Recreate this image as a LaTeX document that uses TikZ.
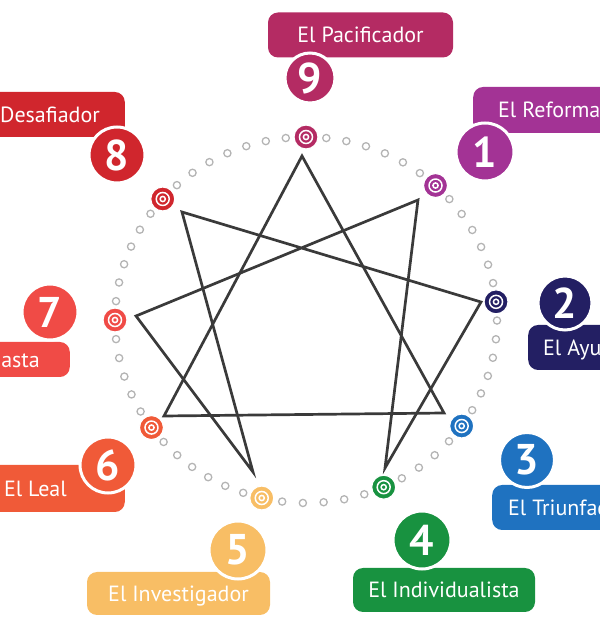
\documentclass[tikz,border=0pt]{standalone}
\usepackage{fontspec}
\setmainfont{PT Sans}
\usetikzlibrary{calc}
\definecolor{tipo9}{HTML}{B42B63}
\definecolor{tipo8}{HTML}{D0262D}
\definecolor{tipo1}{HTML}{A33395}
\definecolor{tipo7}{HTML}{F04B46}
\definecolor{tipo2}{HTML}{231F63}
\definecolor{tipo6}{HTML}{F05A38}
\definecolor{tipo3}{HTML}{1F72C0}
\definecolor{tipo5}{HTML}{F8BE65}
\definecolor{tipo4}{HTML}{189240}
\definecolor{punto}{HTML}{B4B4B4}
\definecolor{linea}{HTML}{3A3A3A}
\tikzset{
  ringdot/.style={draw=punto, line width=1.3pt},
  starline/.style={draw=linea, line width=2.7pt, line join=miter},
  marker/.style={circle, fill=#1, draw=white, line width=1.2pt, minimum size=24pt, inner sep=0pt},
  numcircle/.style={circle, fill=#1, draw=white, line width=3pt, minimum size=56pt, inner sep=0pt,
    text=white, font=\fontsize{43}{43}\selectfont\bfseries},
  namebox/.style={rectangle, rounded corners=10pt, fill=#1, text=white, minimum height=45pt,
    text height=15.5pt, text depth=0pt, font=\fontsize{22}{22}\selectfont},
}
\begin{document}
\begin{tikzpicture}[x=1pt,y=1pt]
\useasboundingbox (0,0) rectangle (600,630);
\clip (0,0) rectangle (600,630);
\coordinate (c) at (306,310);

\foreach \a/\b/\n in {90/47.3/6, 47.3/5.7/6, 5.7/-35.4/6, -35.4/-66/4, -66/-103.4/5,
  -103.4/-144/6, -144/-180/5, -180/-221.4/6, -221.4/-270/7}
  \foreach \i in {1,...,\n}
    \draw[ringdot] ($(c)+({\a+\i*(\b-\a)/(\n+1)}:191 and 183)$) circle (3.6);

\foreach \k/\a in {9/90, 1/47.3, 2/5.7, 3/-35.4, 4/-66, 5/-103.4, 6/-144, 7/180, 8/138.6} {
  \node[marker=tipo\k] (m\k) at ($(c)+(\a:191 and 183)$) {};
  \draw[white, line width=1.5pt] (m\k.center) circle (6.5) (m\k.center) circle (2.6);
}

\coordinate (v9) at (302,474);
\coordinate (v1) at (418,430);
\coordinate (v2) at (481,328);
\coordinate (v3) at (444,217);
\coordinate (v4) at (385,162);
\coordinate (v5) at (253,158);
\coordinate (v6) at (164,214);
\coordinate (v7) at (136,314);
\coordinate (v8) at (182,418);
\draw[starline] (v9) -- (v3) -- (v6) -- cycle;
\draw[starline] (v1) -- (v4) -- (v2) -- (v8) -- (v5) -- (v7) -- cycle;

\node[namebox=tipo9, minimum width=185pt] (b9) at (360.5,595) {El Pacificador};
\node[namebox=tipo8, anchor=east, inner xsep=25pt] (b8) at (125,515.5) {El Desafiador};
\node[namebox=tipo1, anchor=west, inner xsep=25pt, minimum height=46pt] (b1) at (473,520) {El Reformador};
\node[namebox=tipo7, anchor=east, inner xsep=30pt, minimum height=35pt] (b7) at (70,270.5) {El Entusiasta};
\node[namebox=tipo2, anchor=west, inner xsep=15pt] (b2) at (528,282.5) {El Ayudador};
\node[namebox=tipo6, anchor=east, inner xsep=58pt, minimum height=47pt] (b6) at (125,141.5) {El Leal};
\node[namebox=tipo3, anchor=west, inner xsep=16pt] (b3) at (492,122.5) {El Triunfador};
\node[namebox=tipo5, minimum width=183pt, minimum height=43pt] (b5) at (178.5,36.5) {El Investigador};
\node[namebox=tipo4, minimum width=182pt, minimum height=44pt] (b4) at (444,40) {El Individualista};

\node[numcircle=tipo9, minimum size=50pt] (n9) at (310,552) {9};
\node[numcircle=tipo8] (n8) at (117,475) {8};
\node[numcircle=tipo1, minimum size=58pt] (n1) at (485,478) {1};
\node[numcircle=tipo7] (n7) at (50,318) {7};
\node[numcircle=tipo2, minimum size=54pt] (n2) at (565,327) {2};
\node[numcircle=tipo6] (n6) at (108,165) {6};
\node[numcircle=tipo3, minimum size=55pt] (n3) at (527,170) {3};
\node[numcircle=tipo5, minimum size=58pt] (n5) at (238,80) {5};
\node[numcircle=tipo4, minimum size=58pt] (n4) at (422,90) {4};
\end{tikzpicture}
\end{document}
